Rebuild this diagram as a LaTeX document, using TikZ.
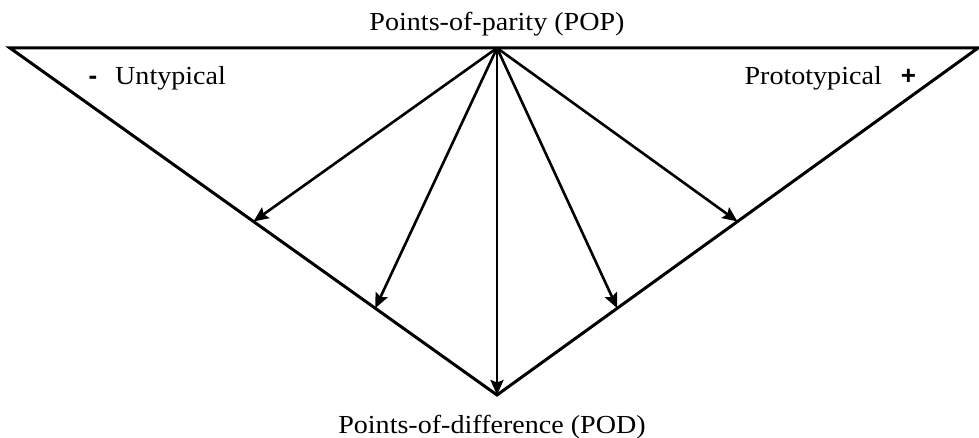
\documentclass[tikz,border=0pt]{standalone}
\usepackage{fontspec}
\setmainfont[FakeStretch=1.08]{Liberation Serif}
\newfontfamily\signfont{Liberation Sans}
\usetikzlibrary{arrows.meta,calc}
\begin{document}
\begin{tikzpicture}[x=1pt,y=-1pt,
  edge/.style={line width=3pt,line join=miter},
  ray/.style={line width=2.6pt,-{Stealth[length=15pt,width=13pt,inset=2.5pt]}},
  lbl/.style={font=\fontsize{26}{30}\selectfont,inner sep=0pt,anchor=base},
  sign/.style={font=\fontsize{26}{30}\selectfont\signfont\bfseries,inner sep=0pt,anchor=base}]
\useasboundingbox (0,0) rectangle (979,438);
\coordinate (L) at (10,48);
\coordinate (R) at (978,48);
\coordinate (B) at (497,395);
\coordinate (A) at (497,48);
\coordinate (l1) at ($(L)!0.5!(B)$);
\coordinate (l2) at ($(L)!0.75!(B)$);
\coordinate (r1) at ($(R)!0.5!(B)$);
\coordinate (r2) at ($(R)!0.75!(B)$);
\draw[edge] (L) -- (R) -- (B) -- cycle;
\draw[ray] (A) -- (l1);
\draw[ray] (A) -- (l2);
\draw[ray] (A) -- (B);
\draw[ray] (A) -- (r2);
\draw[ray] (A) -- (r1);
\node[lbl] (pop) at (497,31) {Points-of-parity (POP)};
\node[lbl] (pod) at (492,433) {Points-of-difference (POD)};
\node[sign] (minus) at (93,85) {-};
\node[lbl,anchor=base west] (unt) at (115,85) {Untypical};
\node[lbl,anchor=base east] (pro) at (882,85) {Prototypical};
\node[sign] (plus) at (908.5,85) {+};
\end{tikzpicture}
\end{document}
